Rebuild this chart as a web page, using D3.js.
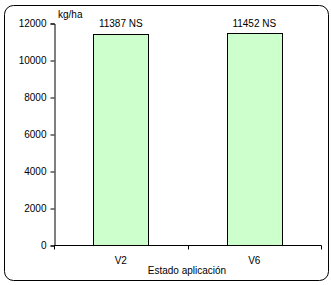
<!DOCTYPE html>
<html>
<head>
<meta charset="utf-8">
<script src="https://cdn.jsdelivr.net/npm/d3@7"></script>
<style>
  body { margin: 0; background: #fff; }
  text { font-family: "Liberation Sans", Arial, sans-serif; font-size: 10px; fill: #000; }
</style>
</head>
<body>
<div id="chart"></div>
<script>
// Data
const categories = ["V2", "V6"];
const values = [11387, 11452];
const valueLabels = ["11387 NS", "11452 NS"];
const yTicks = [0, 2000, 4000, 6000, 8000, 10000, 12000];

const WIDTH = 331;
const HEIGHT = 285;

const svg = d3
  .select("#chart")
  .append("svg")
  .attr("width", WIDTH)
  .attr("height", HEIGHT);

// Outer frame
svg
  .append("rect")
  .attr("x", 4.5)
  .attr("y", 5.5)
  .attr("width", 324)
  .attr("height", 275)
  .attr("rx", 9)
  .attr("fill", "#fff")
  .attr("stroke", "#000")
  .attr("stroke-width", 1);

// Scales
const x = d3.scaleBand().domain(categories).range([54, 321]).paddingInner(0.59).paddingOuter(0.295);
const y = d3.scaleLinear().domain([0, 12000]).range([245, 23]);

// Bars
svg
  .selectAll(".bar")
  .data(values)
  .enter()
  .append("rect")
  .attr("class", "bar")
  .attr("x", (d, i) => Math.round(x(categories[i])) + 0.5)
  .attr("y", (d) => Math.round(y(d)) + 0.5)
  .attr("width", Math.round(x.bandwidth()))
  .attr("height", (d) => Math.round(y(0)) - Math.round(y(d)))
  .attr("fill", "#ccffcc")
  .attr("stroke", "#000");

// Value labels
svg
  .selectAll(".vlabel")
  .data(valueLabels)
  .enter()
  .append("text")
  .attr("class", "vlabel")
  .attr("x", (d, i) => x(categories[i]) + x.bandwidth() / 2)
  .attr("y", 27)
  .attr("text-anchor", "middle")
  .text((d) => d);

// Y axis
const yAxis = svg
  .append("g")
  .attr("transform", "translate(54.5,0.5)")
  .call(d3.axisLeft(y).tickValues(yTicks).tickSize(4).tickPadding(4).tickFormat(d3.format("d")));
yAxis.selectAll("path, line").attr("stroke", "#000");
yAxis.selectAll("text").style("font-size", "10px").attr("font-family", "Liberation Sans, Arial, sans-serif");

// X axis (category boundaries as ticks)
const xAxisG = svg.append("g").attr("transform", "translate(0,245.5)");
xAxisG
  .append("line")
  .attr("x1", 54)
  .attr("x2", 321.5)
  .attr("stroke", "#000");
const bounds = [54, (x(categories[0]) + x.bandwidth() + x(categories[1])) / 2, 321];
xAxisG
  .selectAll(".xt")
  .data(bounds)
  .enter()
  .append("line")
  .attr("x1", (d) => Math.round(d) + 0.5)
  .attr("x2", (d) => Math.round(d) + 0.5)
  .attr("y1", 0)
  .attr("y2", 4)
  .attr("stroke", "#000");
xAxisG
  .selectAll(".xl")
  .data(categories)
  .enter()
  .append("text")
  .attr("x", (d) => x(d) + x.bandwidth() / 2)
  .attr("y", 18)
  .attr("text-anchor", "middle")
  .text((d) => d);

// Axis titles
svg.append("text").attr("x", 58).attr("y", 18).text("kg/ha");
svg
  .append("text")
  .attr("x", 187)
  .attr("y", 274)
  .attr("text-anchor", "middle")
  .text("Estado aplicación");
</script>
</body>
</html>
